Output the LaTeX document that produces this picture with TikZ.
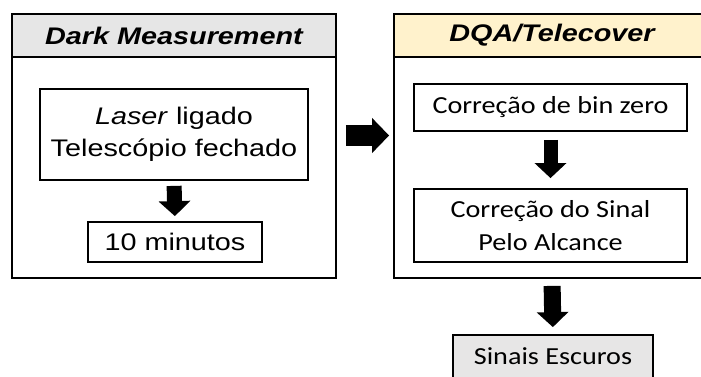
\documentclass[tikz,border=0pt]{standalone}
\usepackage{fontspec}
\setmainfont{Liberation Sans}[FakeStretch=1.2]
\newfontfamily\calfont{Carlito}[FakeStretch=1.15]
\usetikzlibrary{arrows.meta,calc}
\definecolor{hdrgray}{HTML}{E6E6E6}
\definecolor{hdryellow}{HTML}{FFF2CC}
\definecolor{outgray}{HTML}{E7E6E6}
\tikzset{
  frame/.style={draw=black, line width=1.8pt, rectangle, inner sep=0pt},
  hdr/.style={frame, font=\fontsize{24}{28}\selectfont\bfseries\itshape},
  arialbox/.style={frame, fill=white, align=center, font=\fontsize{24}{32}\selectfont},
  calbox/.style={frame, fill=white, align=center, font=\calfont\fontsize{24.5}{33}\selectfont},
  blockarrow/.style={line width=#1, line cap=butt, -{Triangle[length=15pt,width=31pt]}},
  blockarrow/.default=15pt,
}
\begin{document}
\begin{tikzpicture}[x=1pt,y=-1pt]
\useasboundingbox (0,0) rectangle (701,376);
\clip (0,0) rectangle (701,376);

% Dark measurement panel
\node[frame, minimum width=324pt, minimum height=264pt] (lpanel) at (174,146) {};
\node[hdr, fill=hdrgray, minimum width=324pt, minimum height=43pt] (lhead) at (174,35.5) {Dark Measurement};
\node[arialbox, minimum width=268pt, minimum height=91pt] (laser) at (174,134.5) {\textit{Laser} ligado\\Telescópio fechado};
\node[arialbox, minimum width=174pt, minimum height=40pt] (tenmin) at (175,242) {10 minutos};
\draw[blockarrow, shorten <=5pt, shorten >=5pt] (laser.south) -- (tenmin.north);

% DQA / Telecover panel
\node[frame, minimum width=316pt, minimum height=264pt] (rpanel) at (552,146) {};
\node[hdr, fill=hdryellow, minimum width=316pt, minimum height=43pt] (rhead) at (552,35.5) {DQA/Telecover};
\node[calbox, minimum width=273pt, minimum height=47pt] (binzero) at (550.5,107.5) {Correção de bin zero};
\node[calbox, minimum width=273pt, minimum height=73pt] (alcance) at (550.5,225.5) {Correção do Sinal\\Pelo Alcance};
\draw[blockarrow=14pt, shorten <=8pt, shorten >=10pt] (binzero.south) -- (alcance.north);

% output
\node[calbox, fill=outgray, minimum width=200pt, minimum height=43pt] (escuros) at (553,356.5) {Sinais Escuros};
\draw[blockarrow=17pt, shorten <=7pt, shorten >=7pt] (rpanel.south) -- (escuros.north);

% link between the two panels
\draw[line width=21pt, line cap=butt, -{Triangle[length=17pt,width=34pt]}, shorten <=9pt, shorten >=4pt]
  ([yshift=10.5pt]lpanel.east) -- ([yshift=10.5pt]rpanel.west);
\end{tikzpicture}
\end{document}
